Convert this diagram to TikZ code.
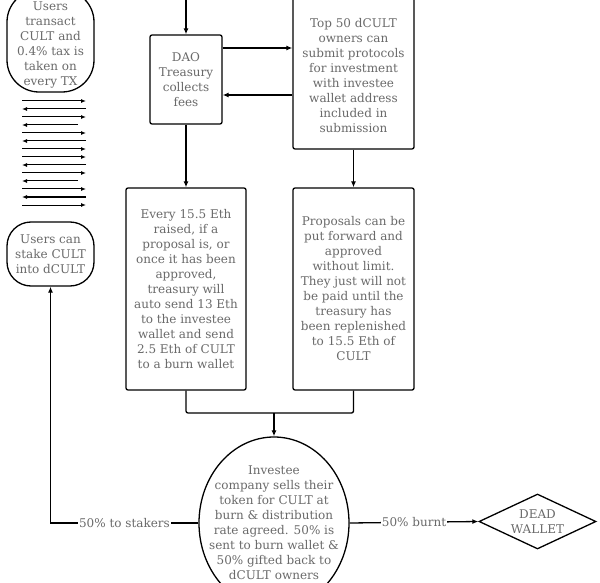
\documentclass[tikz,border=0pt]{standalone}
\usepackage{fontspec}
\setmainfont{DejaVu Serif}
\usetikzlibrary{arrows.meta,shapes.geometric}
\definecolor{textgray}{HTML}{6A6A6A}
\begin{document}
\begin{tikzpicture}[x=1pt,y=-1pt,line width=1.3pt,
  txt/.style={text=textgray,font=\fontsize{12}{15}\selectfont,align=center},
  box/.style={draw,txt,rounded corners=2pt,inner sep=0pt},
  arr/.style={-{Latex[length=6pt,width=5pt]}},
  lbl/.style={txt,fill=white,inner sep=1pt},
  tick/.style={line width=1pt,-{Latex[length=5pt,width=4pt]}}]
\useasboundingbox[fill=white] (0,0) rectangle (600,583);

% nodes
\node[box,rounded corners=32pt,minimum width=87pt,minimum height=102pt] (users) at (50.5,41) {\mbox{}\\[2pt]Users\\transact\\CULT and\\0.4\% tax is\\taken on\\every TX};
\node[box,rounded corners=24pt,minimum width=87pt,minimum height=64pt] (stake) at (50.5,254) {Users can\\stake CULT\\into dCULT};
\node[box,minimum width=72pt,minimum height=89pt] (dao) at (186,79.5) {DAO\\Treasury\\collects\\fees};
\node[box,minimum width=121pt,minimum height=159pt] (top50) at (353.5,69.5) {\mbox{}\\[6pt]Top 50 dCULT\\owners can\\submit protocols\\for investment\\with investee\\wallet address\\included in\\submission};
\node[box,minimum width=120pt,minimum height=202pt] (every) at (186,289) {Every 15.5 Eth\\raised, if a\\proposal is, or\\once it has been\\approved,\\treasury will\\auto send 13 Eth\\to the investee\\wallet and send\\2.5 Eth of CULT\\to a burn wallet};
\node[box,minimum width=121pt,minimum height=202pt] (prop) at (353.5,289) {Proposals can be\\put forward and\\approved\\without limit.\\They just will not\\be paid until the\\treasury has\\been replenished\\to 15.5 Eth of\\CULT};
\node[draw,ellipse,inner sep=0pt,minimum width=150pt,minimum height=172pt] (inv) at (274,523) {};
\node[txt,inner sep=0pt] (invtxt) at (inv.center) {Investee\\company sells their\\token for CULT at\\burn \& distribution\\rate agreed. 50\% is\\sent to burn wallet \&\\50\% gifted back to\\dCULT owners};
\node[draw,txt,diamond,inner sep=0pt,shape aspect=2.1,minimum width=117pt,minimum height=55pt] (dead) at (537.5,521.5) {DEAD\\WALLET};

% helper coordinates
\coordinate (topin) at (186,-1);
\coordinate (ya) at (0,48);
\coordinate (yb) at (0,95);
\coordinate (merge) at (274,413);

% connectors
\draw[arr] (topin) -- (dao.north);
\draw[arr] (dao.east |- ya) -- (top50.west |- ya);
\draw[arr] (top50.west |- yb) -- (dao.east |- yb);
\draw[arr] (top50.south) -- (prop.north);
\draw[arr] (dao.south) -- (every.north);
\draw[rounded corners=2pt] (every.south) |- (merge) -| (prop.south);
\draw[arr] (merge) -- (inv.north);
\draw[arr] (inv.west) -- node[lbl]{50\% to stakers} (stake.south |- inv.west) -- (stake.south);
\draw[arr] (inv.east) -- node[lbl]{50\% burnt} (dead.west);

% transaction ticks
\foreach \y in {101,117,133,149,157,173,189,205} \draw[tick] (22,\y) -- (86,\y);
\foreach \y in {109,141,165,197} \draw[tick] (86,\y) -- (22,\y);
\foreach \y in {125,181} \draw[tick] (78,\y) -- (22,\y);
\end{tikzpicture}
\end{document}
